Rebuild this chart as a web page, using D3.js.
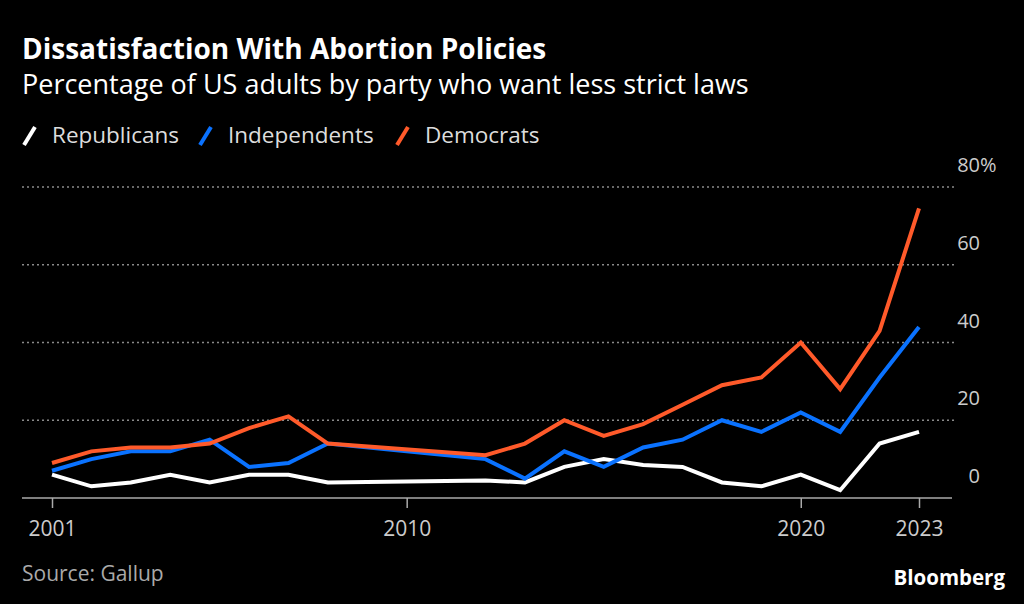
<!DOCTYPE html>
<html>
<head>
<meta charset="utf-8">
<script src="https://cdn.jsdelivr.net/npm/d3@7"></script>
<style>
  body { margin: 0; background: #000; }
  svg { display: block; font-family: "Open Sans", sans-serif; }
</style>
</head>
<body>
<div id="chart"></div>
<script>
// Gallup: share wanting abortion laws less strict, by party
var years = [2001, 2002, 2003, 2004, 2005, 2006, 2007, 2008,
    2012, 2013, 2014, 2015, 2016, 2017, 2018, 2019, 2020, 2021, 2022, 2023];
var republicans = [6, 3, 4, 6, 4, 6, 6, 4, 4.5, 4, 8, 10, 8.5, 8, 4, 3, 6, 2, 14, 17];
var independents = [7, 10, 12, 12, 15, 8, 9, 14, 10, 5, 12, 8, 13, 15, 20, 17, 22, 17, 31, 44];
var democrats = [9, 12, 13, 13, 14, 18, 21, 14, 11, 14, 20, 16, 19, 24, 29, 31, 40, 28, 43, 74.5];
var yTicks = [0, 20, 40, 60, 80];
var xTicks = [2001, 2010, 2020, 2023];

var seriesNames = ["Republicans", "Independents", "Democrats"];
var seriesColors = ["#ffffff", "#0a72ff", "#ff5a2a"];
var seriesValues = [republicans, independents, democrats];

var width = 1024, height = 604;

var svg = d3.select("#chart")
    .append("svg")
    .attr("width", width)
    .attr("height", height);

svg.append("rect")
    .attr("width", width)
    .attr("height", height)
    .attr("fill", "#000");

var x = d3.scaleLinear()
    .domain([2001, 2023])
    .range([52, 919]);

var y = d3.scaleLinear()
    .domain([0, 80])
    .range([498, 187]);

// titles
svg.append("text")
    .attr("x", 22)
    .attr("y", 59)
    .attr("font-size", 28)
    .attr("font-weight", "bold")
    .attr("fill", "#fff")
    .text("Dissatisfaction With Abortion Policies");

svg.append("text")
    .attr("x", 22)
    .attr("y", 94)
    .attr("font-size", 27)
    .attr("fill", "#fff")
    .text("Percentage of US adults by party who want less strict laws");

// legend
var legendX = [22, 198, 395];
for (var i = 0; i < seriesNames.length; i++) {
    svg.append("line")
        .attr("x1", legendX[i] + 2)
        .attr("y1", 145)
        .attr("x2", legendX[i] + 13)
        .attr("y2", 127)
        .style("stroke", seriesColors[i])
        .style("stroke-width", 4);
    svg.append("text")
        .attr("x", legendX[i] + 30)
        .attr("y", 143)
        .attr("font-size", 22.5)
        .attr("fill", "#ddd")
        .text(seriesNames[i]);
}

// gridlines (not at zero)
svg.selectAll(".grid")
    .data(yTicks.filter(function (d) { return d > 0; }))
    .enter()
    .append("line")
    .attr("x1", 22)
    .attr("x2", 955)
    .attr("y1", function (d) { return y(d); })
    .attr("y2", function (d) { return y(d); })
    .style("stroke", "#8a8a8a")
    .style("stroke-width", 1.5)
    .style("stroke-dasharray", "2,3");

// y labels, sitting above their lines
svg.selectAll(".ylab")
    .data(yTicks)
    .enter()
    .append("text")
    .attr("x", 980)
    .attr("y", function (d) { return y(d) - 15; })
    .attr("text-anchor", "end")
    .attr("font-size", 20)
    .attr("fill", "#ccc")
    .text(function (d) { return d; });

svg.append("text")
    .attr("x", 980)
    .attr("y", y(80) - 15)
    .attr("font-size", 20)
    .attr("fill", "#ccc")
    .text("%");

// x axis
var xAxis = d3.axisBottom(x)
    .tickValues(xTicks)
    .tickFormat(d3.format("d"))
    .tickSize(10)
    .tickPadding(13);

var gx = svg.append("g")
    .attr("transform", "translate(0," + y(0) + ")")
    .call(xAxis);

gx.select(".domain").remove();
gx.insert("line", ":first-child")
    .attr("x1", 22)
    .attr("x2", 952)
    .style("stroke", "#aaa")
    .style("stroke-width", 1.5);
gx.selectAll(".tick line").style("stroke", "#aaa").style("stroke-width", 1.5);
gx.selectAll(".tick text")
    .attr("font-size", 21)
    .attr("font-family", "Open Sans, sans-serif")
    .attr("fill", "#ccc");

// lines
var line = d3.line()
    .x(function (d) { return x(d.year); })
    .y(function (d) { return y(d.value); });

for (var s = 0; s < seriesValues.length; s++) {
    var pts = years.map(function (yr, k) { return { year: yr, value: seriesValues[s][k] }; });
    svg.append("path")
        .datum(pts)
        .attr("d", line)
        .style("fill", "none")
        .style("stroke", seriesColors[s])
        .style("stroke-width", 4)
        .style("stroke-linejoin", "miter");
}

// footer
svg.append("text")
    .attr("x", 22)
    .attr("y", 581)
    .attr("font-size", 21)
    .attr("fill", "#aaa")
    .text("Source: Gallup");

svg.append("text")
    .attr("x", 1005)
    .attr("y", 585)
    .attr("text-anchor", "end")
    .attr("font-size", 20.5)
    .attr("font-weight", "bold")
    .attr("fill", "#fff")
    .text("Bloomberg");
</script>
</body>
</html>
